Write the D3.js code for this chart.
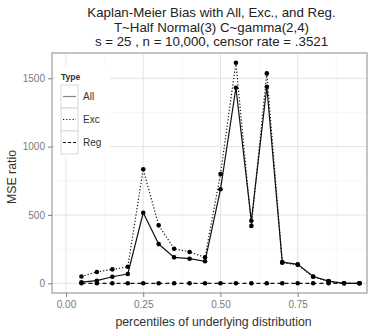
<!DOCTYPE html>
<html>
<head>
<meta charset="utf-8">
<script src="https://cdn.jsdelivr.net/npm/d3@7"></script>
<style>
  html, body { margin: 0; padding: 0; background: #fff; }
  svg { display: block; font-family: "Liberation Sans", Arial, sans-serif; }
</style>
</head>
<body>
<svg id="chart" width="371" height="333"></svg>
<script>
// Percentiles of the underlying distribution
const percentiles = [0.05, 0.10, 0.15, 0.20, 0.25, 0.30, 0.35, 0.40, 0.45, 0.50,
                     0.55, 0.60, 0.65, 0.70, 0.75, 0.80, 0.85, 0.90, 0.95];
// MSE ratio by estimator type
const allValues = [8, 19, 48, 68, 516, 287, 190, 180, 161, 688,
                   1431, 458, 1438, 155, 139, 50, 16, 0, 0];
const excValues = [50, 83, 102, 121, 834, 424, 253, 229, 190, 800,
                   1614, 420, 1536, 151, 136, 48, 15, 0, 0];
const regValues = [0, 0, 0, 0, 0, 0, 0, 0, 0, 0,
                   0, 0, 0, 0, 0, 0, 0, 0, 0];
const seriesNames = ["All", "Exc", "Reg"];
const xTicks = [0, 0.25, 0.5, 0.75];
const xTickLabels = ["0.00", "0.25", "0.50", "0.75"];
const yTicks = [0, 500, 1000, 1500];
const titleLines = ["Kaplan-Meier Bias with All, Exc., and Reg.",
                    "T~Half Normal(3) C~gamma(2,4)",
                    "s = 25 , n = 10,000, censor rate = .3521"];

const series = [
  { name: seriesNames[0], values: allValues, dash: null },
  { name: seriesNames[1], values: excValues, dash: "1.2,2" },
  { name: seriesNames[2], values: regValues, dash: "4,3" }
];

const svg = d3.select("#chart");
const panel = { left: 52, top: 53, right: 367, bottom: 293 };

const x = d3.scaleLinear().domain([0, 0.75]).range([66, 297.7]);
const y = d3.scaleLinear().domain([0, 1500]).range([283.3, 78.3]);

// Minor and major grid lines
const minorX = [0.125, 0.375, 0.625, 0.875];
const minorY = [250, 750, 1250];
const g = svg.append("g");
g.selectAll(".gxm").data(minorX).join("line")
  .attr("x1", d => x(d)).attr("x2", d => x(d))
  .attr("y1", panel.top).attr("y2", panel.bottom)
  .attr("stroke", "#f6f6f6").attr("stroke-width", 0.8);
g.selectAll(".gym").data(minorY).join("line")
  .attr("x1", panel.left).attr("x2", panel.right)
  .attr("y1", d => y(d)).attr("y2", d => y(d))
  .attr("stroke", "#f6f6f6").attr("stroke-width", 0.8);
g.selectAll(".gx").data(xTicks).join("line")
  .attr("x1", d => x(d)).attr("x2", d => x(d))
  .attr("y1", panel.top).attr("y2", panel.bottom)
  .attr("stroke", "#e3e3e3").attr("stroke-width", 1);
g.selectAll(".gy").data(yTicks).join("line")
  .attr("x1", panel.left).attr("x2", panel.right)
  .attr("y1", d => y(d)).attr("y2", d => y(d))
  .attr("stroke", "#e3e3e3").attr("stroke-width", 1);

// Series lines and points
const line = d3.line().x((d, i) => x(percentiles[i])).y(d => y(d));
series.forEach(s => {
  svg.append("path")
    .datum(s.values)
    .attr("d", line)
    .attr("fill", "none")
    .attr("stroke", "#111")
    .attr("stroke-width", 1.2)
    .attr("stroke-dasharray", s.dash);
  svg.append("g").selectAll("circle").data(s.values).join("circle")
    .attr("cx", (d, i) => x(percentiles[i]))
    .attr("cy", d => y(d))
    .attr("r", 2.3)
    .attr("fill", "#000");
});

// Panel border
svg.append("rect")
  .attr("x", panel.left).attr("y", panel.top)
  .attr("width", panel.right - panel.left).attr("height", panel.bottom - panel.top)
  .attr("fill", "none").attr("stroke", "#8a8a8a").attr("stroke-width", 1);

// Axes
const xAxis = d3.axisBottom(x).tickValues(xTicks)
  .tickFormat((d, i) => xTickLabels[i]).tickSize(4).tickPadding(4);
const xg = svg.append("g").attr("transform", `translate(0,${panel.bottom})`).call(xAxis);
xg.select(".domain").remove();
xg.selectAll("line").attr("stroke", "#7f7f7f");
xg.selectAll("text").attr("fill", "#7a7a7a").attr("font-size", 10)
  .attr("font-family", "Liberation Sans, Arial, sans-serif");

const yAxis = d3.axisLeft(y).tickValues(yTicks).tickSize(4).tickPadding(3)
  .tickFormat(d3.format("d"));
const yg = svg.append("g").attr("transform", `translate(${panel.left},0)`).call(yAxis);
yg.select(".domain").remove();
yg.selectAll("line").attr("stroke", "#7f7f7f");
yg.selectAll("text").attr("fill", "#7a7a7a").attr("font-size", 10)
  .attr("font-family", "Liberation Sans, Arial, sans-serif");

// Axis titles
svg.append("text")
  .attr("x", (panel.left + panel.right) / 2 + 4).attr("y", 326)
  .attr("text-anchor", "middle").attr("font-size", 12.3).attr("fill", "#333")
  .text("percentiles of underlying distribution");
svg.append("text")
  .attr("transform", `translate(16,${(panel.top + panel.bottom) / 2 + 4}) rotate(-90)`)
  .attr("text-anchor", "middle").attr("font-size", 12.3).attr("fill", "#333")
  .text("MSE ratio");

// Title
svg.append("g").selectAll("text").data(titleLines).join("text")
  .attr("x", (panel.left + panel.right) / 2 + 2)
  .attr("y", (d, i) => 17 + i * 14.5)
  .attr("text-anchor", "middle").attr("font-size", 13.3).attr("fill", "#222")
  .text(d => d);

// Legend
const lg = svg.append("g");
lg.append("rect").attr("x", 55).attr("y", 66).attr("width", 55).attr("height", 92)
  .attr("fill", "#fff");
lg.append("text").attr("x", 61).attr("y", 80).attr("font-size", 8.5)
  .attr("font-weight", "bold").attr("fill", "#333").text("Type");
const keyH = 23;
series.forEach((s, i) => {
  const ky = 85 + i * keyH;
  lg.append("rect").attr("x", 61).attr("y", ky).attr("width", 17).attr("height", keyH)
    .attr("fill", "#fff").attr("stroke", "#d0d0d0").attr("stroke-width", 0.8);
  lg.append("line").attr("x1", 63).attr("x2", 76)
    .attr("y1", ky + keyH / 2).attr("y2", ky + keyH / 2)
    .attr("stroke", i === 0 ? "#888" : "#111").attr("stroke-width", 1.2)
    .attr("stroke-dasharray", i === 2 ? "3,2" : s.dash);
  lg.append("text").attr("x", 83).attr("y", ky + keyH / 2 + 3.5)
    .attr("font-size", 10).attr("fill", "#333").text(s.name);
});
</script>
</body>
</html>
